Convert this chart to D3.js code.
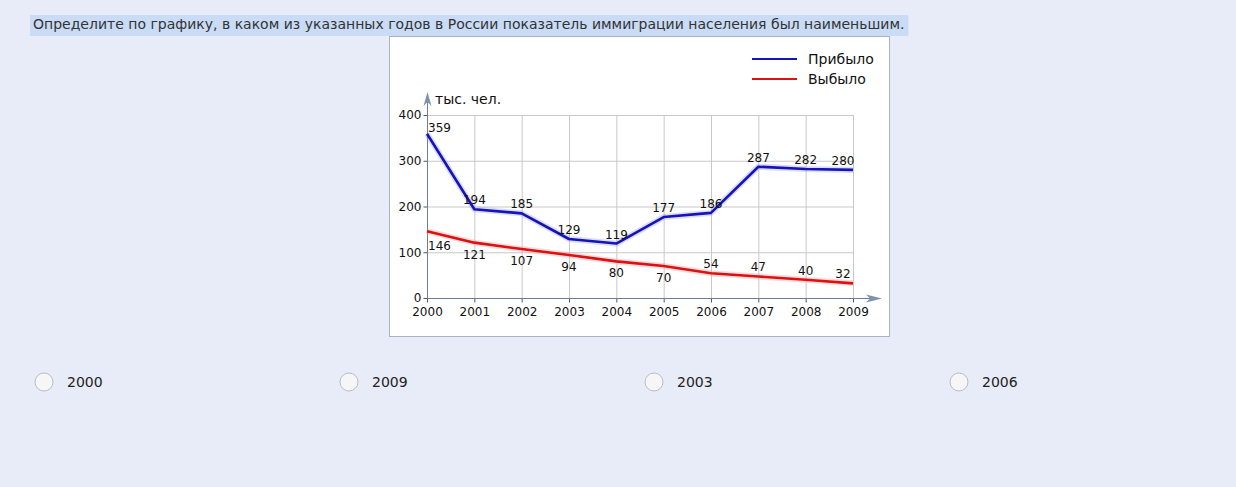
<!DOCTYPE html>
<html>
<head>
<meta charset="utf-8">
<script src="https://cdn.jsdelivr.net/npm/d3@7"></script>
<style>
  body { margin: 0; background: #e8ecf8; font-family: "DejaVu Sans", Verdana, sans-serif; }
  svg { display: block; }
</style>
</head>
<body>
<svg id="page" width="1236" height="487"></svg>
<script>
// Daten
var jahre = [2000, 2001, 2002, 2003, 2004, 2005, 2006, 2007, 2008, 2009];
var pribylo = [359, 194, 185, 129, 119, 177, 186, 287, 282, 280];
var vybylo = [146, 121, 107, 94, 80, 70, 54, 47, 40, 32];
var yTicks = [0, 100, 200, 300, 400];
var pribyloSeite = ["above", "above", "above", "above", "above", "above", "above", "above", "above", "above"];
var vybyloSeite = ["below", "below", "below", "below", "below", "below", "above", "above", "above", "above"];
var antworten = ["2000", "2009", "2003", "2006"];
var frage = "Определите по графику, в каком из указанных годов в России показатель иммиграции населения был наименьшим.";

var svg = d3.select("#page");

// Frage mit Markierung
var q = svg.append("text")
    .attr("x", 33).attr("y", 29)
    .attr("font-size", 14).attr("fill", "#333")
    .text(frage);
var qb = q.node().getBBox();
svg.insert("rect", "text")
    .attr("x", 30).attr("y", 15)
    .attr("width", qb.width + 7).attr("height", 21)
    .attr("fill", "#c9dbf5");

// Kasten
svg.append("rect")
    .attr("x", 389.5).attr("y", 36.5)
    .attr("width", 500).attr("height", 300)
    .attr("fill", "#fff").attr("stroke", "#a9b1c2");

var x = d3.scaleLinear().domain([2000, 2009]).range([427, 853]);
var y = d3.scaleLinear().domain([0, 400]).range([298, 115]);

// Gitter
var g = svg.append("g");
g.selectAll(".vg").data(jahre.slice(1)).enter().append("line")
    .attr("x1", d => x(d) + 0.5).attr("x2", d => x(d) + 0.5)
    .attr("y1", y(400)).attr("y2", y(0))
    .attr("stroke", "#c8c8c8");
g.selectAll(".hg").data(yTicks.slice(1)).enter().append("line")
    .attr("x1", x(2000)).attr("x2", x(2009))
    .attr("y1", d => y(d) + 0.5).attr("y2", d => y(d) + 0.5)
    .attr("stroke", "#c8c8c8");

// Achsen
var xAxis = svg.append("g").attr("transform", "translate(0," + (y(0) + 0.5) + ")")
    .call(d3.axisBottom(x).tickValues(jahre).tickFormat(d3.format("d")).tickSize(4).tickPadding(5));
var yAxis = svg.append("g").attr("transform", "translate(" + (x(2000) + 0.5) + ",0)")
    .call(d3.axisLeft(y).tickValues(yTicks).tickSize(4).tickPadding(2));
[xAxis, yAxis].forEach(function(a) {
    a.select(".domain").remove();
    a.selectAll("line").attr("stroke", "#555");
    a.selectAll("text").attr("font-size", 12).attr("fill", "#111")
        .attr("font-family", "DejaVu Sans, sans-serif");
});
svg.append("line").attr("x1", x(2000)).attr("x2", 872).attr("y1", y(0) + 0.5).attr("y2", y(0) + 0.5)
    .attr("stroke", "#6c7f95").attr("stroke-width", 1);
svg.append("line").attr("x1", x(2000) + 0.5).attr("x2", x(2000) + 0.5).attr("y1", y(0)).attr("y2", 100)
    .attr("stroke", "#6c7f95").attr("stroke-width", 1);
// Pfeile
svg.append("path").attr("d", "M866,294.5 L882,298.5 L866,302.5 L870,298.5 Z").attr("fill", "#7d93ab");
svg.append("path").attr("d", "M423.5,106 L427.5,92 L431.5,106 L427.5,102 Z").attr("fill", "#7d93ab");
svg.append("text").attr("x", 435).attr("y", 104).attr("font-size", 14).attr("fill", "#111").text("тыс. чел.");

// Linien
var line = d3.line().x((d, i) => x(jahre[i])).y(d => y(d));
function zeichne(werte, farbe, glow) {
    svg.append("path").datum(werte).attr("d", line)
        .attr("fill", "none").attr("stroke", glow).attr("stroke-width", 6).attr("stroke-opacity", 0.35)
        .attr("stroke-linejoin", "round");
    svg.append("path").datum(werte).attr("d", line)
        .attr("fill", "none").attr("stroke", farbe).attr("stroke-width", 2.6)
        .attr("stroke-linejoin", "round");
}
zeichne(vybylo, "#dd1111", "#f39a9a");
zeichne(pribylo, "#1414b8", "#9b9bf0");

// Beschriftungen
function beschrifte(werte, seite) {
    svg.selectAll(null).data(werte).enter().append("text")
        .attr("x", (d, i) => x(jahre[i]) + (i === 0 ? 1 : i === jahre.length - 1 ? -10 : 0))
        .attr("y", (d, i) => y(d) + (seite[i] === "above" ? (i === 0 ? -2 : -5) : (i === 0 ? 19 : 16)))
        .attr("text-anchor", (d, i) => i === 0 ? "start" : "middle")
        .attr("font-size", 12).attr("fill", "#111")
        .text(d => d);
}
beschrifte(pribylo, pribyloSeite);
beschrifte(vybylo, vybyloSeite);

// Legende
var legende = [["Прибыло", "#1414b8"], ["Выбыло", "#dd1111"]];
var lg = svg.selectAll(".lg").data(legende).enter().append("g")
    .attr("transform", (d, i) => "translate(752," + (59 + i * 20) + ")");
lg.append("line").attr("x1", 0).attr("x2", 45).attr("stroke", d => d[1]).attr("stroke-width", 2);
lg.append("text").attr("x", 56).attr("y", 5).attr("font-size", 14).attr("fill", "#111").text(d => d[0]);

// Antworten
var rb = svg.selectAll(".rb").data(antworten).enter().append("g")
    .attr("transform", (d, i) => "translate(" + (44 + i * 305) + ",382)");
rb.append("circle").attr("r", 9).attr("fill", "#f6f6f6").attr("stroke", "#b8bcc4");
rb.append("text").attr("x", 23).attr("y", 5).attr("font-size", 14).attr("fill", "#222").text(d => d);
</script>
</body>
</html>
